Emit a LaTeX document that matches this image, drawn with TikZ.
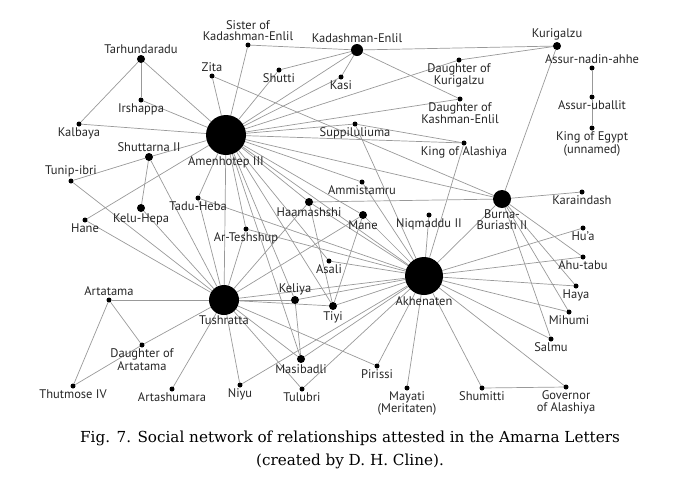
\documentclass[tikz,border=0pt]{standalone}
\usepackage{fontspec}
\setmainfont{PT Sans}
\newfontfamily\capfont{DejaVu Serif}
\usetikzlibrary{backgrounds}

\begin{document}
\begin{tikzpicture}[
    x=1pt, y=-1pt,
    pt/.style={circle, fill, inner sep=0pt, minimum size=5pt},
    ptm/.style={circle, fill, inner sep=0pt, minimum size=8pt},
    hub/.style={circle, fill, inner sep=0pt, minimum size=#1},
    every label/.style={font=\fontsize{12.5}{11.5}\selectfont, inner sep=1pt, align=center, text=black!85},
    label distance=0pt,
    link/.style={draw=black!40, line width=0.7pt}
]
\useasboundingbox (0,0) rectangle (700,491);

% hubs
\node[hub=40pt, label=below:{Amenhotep III}] (amen) at (226,135) {};
\node[hub=30pt, label={[yshift=1pt]below:{Tushratta}}] (tush) at (224,300) {};
\node[hub=38pt, label=below:{Akhenaten}] (akh) at (424,276) {};
\node[hub=18pt, label=below:{Burna-\\Buriash II}] (burna) at (502,199) {};
\node[hub=12pt, label=above:{Kadashman-Enlil}] (kad) at (357,50) {};

% people
\node[ptm, label=above:{Kurigalzu}] (kuri) at (557,46) {};
\node[ptm, label=above:{Tarhundaradu}] (tarh) at (141,59) {};
\node[pt, label=below:{Irshappa}] (irsh) at (141,100) {};
\node[pt, label=below:{Kalbaya}] (kalb) at (79,124) {};
\node[pt, label=above:{Sister of\\Kadashman-Enlil}] (sist) at (248,45) {};
\node[pt, label=above:{Zita}] (zita) at (212,76) {};
\node[pt, label=below:{Shutti}] (shut) at (279,70) {};
\node[pt, label=below:{Kasi}] (kasi) at (341,77) {};
\node[ptm, label=above:{Shuttarna II}] (shtr) at (149,157) {};
\node[pt, label=above:{Tunip-ibri}] (tuni) at (71,181) {};
\node[ptm, label=below:{Kelu-Hepa}] (kelu) at (141,208) {};
\node[pt, label=below:{Hane}] (hane) at (85,220) {};
\node[pt, label=below:{Tadu-Heba}] (tadu) at (198,198) {};
\node[ptm, label=below:{Haamashshi}] (haam) at (309,202) {};
\node[pt, label=below:{Ammistamru}] (ammi) at (362,182) {};
\node[ptm, label=below:{Mane}] (mane) at (363,215) {};
\node[pt, label=below:{Niqmaddu II}] (niqm) at (429,215) {};
\node[pt, label=below:{Ar-Teshshup}] (arte) at (246,229) {};
\node[pt, label=below:{Asali}] (asal) at (329,261) {};
\node[ptm, label=above:{Keliya}] (keli) at (295,300) {};
\node[ptm, label=below:{Tiyi}] (tiyi) at (333,306) {};
\node[pt, label=below:{Suppiluliuma}] (supp) at (355,124) {};
\node[pt, label=below:{Daughter of\\Kurigalzu}] (dkur) at (459,60) {};
\node[pt, label=below:{Daughter of\\Kashman-Enlil}] (dkas) at (460,99) {};
\node[pt, label=below:{King of Alashiya}] (kala) at (464,143) {};
\node[pt, label=above:{Assur-nadin-ahhe}] (assn) at (592,68) {};
\node[pt, label=below:{Assur-uballit}] (assu) at (592,97) {};
\node[pt, label=below:{King of Egypt\\(unnamed)}] (kegy) at (592,128) {};
\node[pt, label=below:{Karaindash}] (kara) at (582,192) {};
\node[pt, label=below:{Hu'a}] (hua) at (583,228) {};
\node[pt, label=below:{Ahu-tabu}] (ahut) at (583,257) {};
\node[pt, label=below:{Haya}] (haya) at (576,286) {};
\node[pt, label=below:{Mihumi}] (mihu) at (569,312) {};
\node[pt, label=below:{Salmu}] (salm) at (551,339) {};
\node[pt, label=below:{Governor\\of Alashiya}] (gova) at (566,387) {};
\node[pt, label=below:{Shumitti}] (shum) at (482,388) {};
\node[pt, label=below:{Mayati\\(Meritaten)}] (maya) at (407,388) {};
\node[pt, label=below:{Pirissi}] (piri) at (377,366) {};
\node[pt, label=below:{Tulubri}] (tulu) at (302,389) {};
\node[ptm, label=below:{Masibadli}] (masi) at (301,359) {};
\node[pt, label=below:{Niyu}] (niyu) at (240,385) {};
\node[pt, label=below:{Artashumara}] (arts) at (172,389) {};
\node[pt, label=below:{Thutmose IV}] (thut) at (73,386) {};
\node[pt, label=below:{Daughter of\\Artatama}] (dart) at (142,345) {};
\node[pt, label=above:{Artatama}] (arta) at (109,300) {};

% links
\begin{scope}[on background layer]
\foreach \b in {tarh,irsh,kalb,zita,sist,shut,kad,kasi,dkur,dkas,supp,kala,shtr,hane,
                tadu,tush,arte,haam,mane,akh,tiyi,keli,asal,burna,ammi,masi}
    \draw[link] (amen) -- (\b);
\foreach \b in {arta,dart,arts,niyu,masi,tulu,keli,tiyi,mane,haam,arte,akh,
                hane,kelu,tadu,shtr,tuni,piri}
    \draw[link] (tush) -- (\b);
\foreach \b in {hua,ahut,haya,mihu,salm,gova,shum,maya,piri,masi,tiyi,keli,asal,
                mane,niqm,ammi,haam,tadu,arte,tulu,niyu,burna,kala,supp}
    \draw[link] (akh) -- (\b);
\foreach \b in {kuri,kara,ahut,haya,mihu,salm,haam,zita}
    \draw[link] (burna) -- (\b);
\foreach \b in {kuri,shut,kasi,dkas,sist}
    \draw[link] (kad) -- (\b);
\draw[link] (tarh) -- (irsh);
\draw[link] (tarh) -- (kalb);
\draw[link] (shtr) -- (tuni);
\draw[link] (shtr) -- (kelu);
\draw[link] (kuri) -- (dkur);
\draw[link] (supp) -- (kala);
\draw[link] (assn) -- (assu) -- (kegy);
\draw[link] (shum) -- (gova);
\draw[link] (arta) -- (dart);
\draw[link] (arta) -- (thut);
\draw[link] (thut) -- (dart);
\draw[link] (keli) -- (masi);
\draw[link] (mane) -- (tiyi);
\draw[link] (haam) -- (tiyi);
\end{scope}

% caption
\node[font=\capfont\fontsize{15.2}{23}\selectfont, align=center] (cap) at (350,450)
    {Fig. 7. Social network of relationships attested in the Amarna Letters\\(created by D. H. Cline).};
\end{tikzpicture}
\end{document}
